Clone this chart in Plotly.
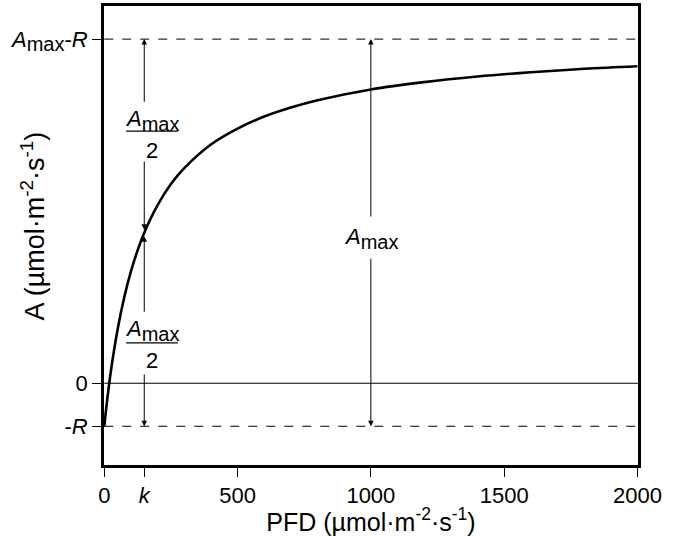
import plotly.graph_objects as go

# Light-response curve values
pfd = [0, 5, 10, 15, 25, 50, 75, 100, 125, 150, 200, 250, 300, 400, 500, 600, 700, 800,
       1000, 1200, 1400, 1600, 1800, 2000]
assim = [-1.0, -0.71, -0.44, -0.18, 0.29, 1.25, 2.0, 2.6, 3.09, 3.5, 4.14, 4.63, 5.0, 5.55,
         5.92, 6.2, 6.41, 6.58, 6.83, 7.0, 7.13, 7.23, 7.31, 7.37]

k_val = 150
amax_minus_r = 8
neg_r = -1
x_tickvals = [0, k_val, 500, 1000, 1500, 2000]
x_ticktext = ["0", "<i>k</i>", "500", "1000", "1500", "2000"]

FONT = "Liberation Sans, Arial, Helvetica, sans-serif"
AMAX = '<i>A</i><sub><span style="font-size:20px">max</span></sub>'
AMAX_T = '<i>A</i><sub><span style="font-size:20px">max</span></sub>-<i>R</i>'
y_tickvals = [neg_r, 0, amax_minus_r]
y_ticktext = ["-<i>R</i>", "0", AMAX_T]

fig = go.Figure()
fig.add_trace(go.Scatter(x=pfd, y=assim, mode="lines", line=dict(color="black", width=2.6, shape="spline"),
                         showlegend=False, hoverinfo="skip"))

shapes = []
# dashed reference lines and zero line
shapes.append(dict(type="line", xref="x", yref="y", x0=0, x1=2002, y0=amax_minus_r, y1=amax_minus_r,
                   line=dict(color="black", width=1, dash="dash")))
shapes.append(dict(type="line", xref="x", yref="y", x0=0, x1=2002, y0=neg_r, y1=neg_r,
                   line=dict(color="black", width=1, dash="dash")))
shapes.append(dict(type="line", xref="x", yref="y", x0=0, x1=2002, y0=0, y1=0,
                   line=dict(color="black", width=1.2)))
# fraction bars
for yb in [5.86, 0.94]:
    shapes.append(dict(type="line", xref="x", yref="y", x0=82, x1=276, y0=yb, y1=yb,
                       line=dict(color="black", width=1.3)))

annotations = []
def arrow(x, y_tail, y_head):
    annotations.append(dict(x=x, y=y_head, ax=x, ay=y_tail, xref="x", yref="y", axref="x", ayref="y",
                            text="", showarrow=True, arrowhead=2, arrowsize=1.1, arrowwidth=1,
                            arrowcolor="black", standoff=0, startstandoff=0))

arrow(k_val, 6.51, amax_minus_r)
arrow(k_val, 5.19, 3.57)
arrow(k_val, 1.63, 3.42)
arrow(k_val, 0.24, neg_r)
arrow(1000, 3.84, amax_minus_r)
arrow(1000, 2.93, neg_r)

def label(x, y, text):
    annotations.append(dict(x=x, y=y, xref="x", yref="y", text=text, showarrow=False,
                            font=dict(family=FONT, size=22, color="black"),
                            xanchor="center", yanchor="middle"))

label(180, 6.12, AMAX)
label(180, 5.40, "2")
label(180, 1.22, AMAX)
label(180, 0.52, "2")
label(1000, 3.37, AMAX)

# y-axis title as a rotated annotation
annotations.append(dict(x=-0.133, y=0.522, xref="paper", yref="paper", showarrow=False,
                        text="A (µmol·m<sup>-2</sup>·s<sup>-1</sup>)", textangle=-90,
                        font=dict(family=FONT, size=27, color="black"),
                        xanchor="center", yanchor="middle"))

fig.update_layout(
    width=674, height=536,
    margin=dict(l=104, r=36, t=6, b=71),
    paper_bgcolor="white", plot_bgcolor="white",
    font=dict(family=FONT, size=22, color="black"),
    shapes=shapes, annotations=annotations,
    xaxis=dict(range=[-1, 2002], tickvals=x_tickvals, ticktext=x_ticktext, automargin=False,
               showgrid=False, zeroline=False, showline=True, linecolor="black", linewidth=2.8,
               mirror=True, ticks="outside", ticklen=9, tickwidth=1.2, tickcolor="black",
               tickfont=dict(family=FONT, size=22),
               title=dict(text="PFD (µmol·m<sup>-2</sup>·s<sup>-1</sup>)", font=dict(family=FONT, size=25),
                          standoff=4)),
    yaxis=dict(range=[-1.90, 8.77], tickvals=y_tickvals, ticktext=y_ticktext, automargin=False,
               showgrid=False, zeroline=False, showline=True, linecolor="black", linewidth=2.8,
               mirror=True, ticks="outside", ticklen=9, tickwidth=1, tickcolor="black",
               tickfont=dict(family=FONT, size=22)),
)

fig.write_html("out.html")
